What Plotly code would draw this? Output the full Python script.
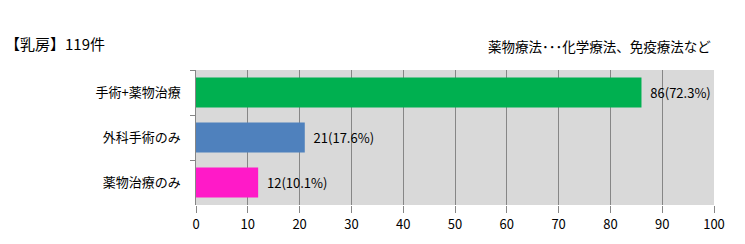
import plotly.graph_objects as go

categories = ["手術+薬物治療", "外科手術のみ", "薬物治療のみ"]
counts = [86, 21, 12]
percents = [72.3, 17.6, 10.1]
colors = ["#00b050", "#4f81bd", "#ff1ac8"]
xticks = [0, 10, 20, 30, 40, 50, 60, 70, 80, 90, 100]

labels = [f"  {c}({p}%)" for c, p in zip(counts, percents)]
font = "Noto Sans CJK JP, sans-serif"

fig = go.Figure(go.Bar(
    y=categories, x=counts, orientation="h",
    marker=dict(color=colors, line=dict(width=0)),
    width=0.67,
    text=labels, textposition="outside", cliponaxis=False,
    textfont=dict(family=font, size=13, color="#000"),
))

fig.update_layout(
    width=745, height=244,
    margin=dict(l=196, r=31, t=70, b=39),
    paper_bgcolor="white", plot_bgcolor="#d9d9d9",
    showlegend=False,
    font=dict(family=font, size=13, color="#000"),
    xaxis=dict(range=[0, 100], tickvals=xticks, showgrid=True, gridcolor="#868686",
               gridwidth=1, ticks="outside", ticklen=7, tickcolor="#868686",
               zeroline=False, showline=False, tickfont=dict(size=13)),
    yaxis=dict(autorange="reversed", tickson="boundaries", ticks="outside", ticklen=5,
               tickcolor="#868686", showline=True, linecolor="#868686",
               showgrid=False, ticksuffix="    ", tickfont=dict(size=13)),
    annotations=[
        dict(text="【乳房】119件", showarrow=False, font=dict(size=15)),
        dict(text="薬物療法･･･化学療法、免疫療法など", showarrow=False, font=dict(size=13.5)),
    ],
)
# Convert annotation positions from pixels to paper coordinates
pw, ph = 745 - 196 - 31, 244 - 70 - 39
fig.layout.annotations[0].update(x=(3 - 196) / pw, y=(244 - 39 - 43) / ph, xref="paper", yref="paper",
                                  xanchor="left", yanchor="middle")
fig.layout.annotations[1].update(x=(713 - 196) / pw, y=(244 - 39 - 46) / ph, xref="paper", yref="paper",
                                  xanchor="right", yanchor="middle")

fig.write_html("out.html")
